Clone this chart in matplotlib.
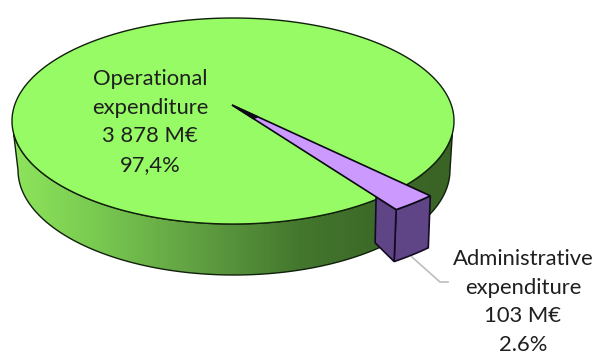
import numpy as np
import matplotlib.pyplot as plt
from matplotlib.colors import LinearSegmentedColormap
from matplotlib.patches import Polygon

categories = ['Operational\nexpenditure', 'Administrative\nexpenditure']
amounts = [3878, 103]
amount_labels = ['3 878 M€', '103 M€']
share_labels = ['97,4%', '2.6%']


def rim(cx, cy, a, b, t0, t1, n=200):
    # points of an ellipse between two angles (degrees), y pointing down
    t = np.radians(np.linspace(t0, t1, n))
    return np.column_stack([cx + a * np.cos(t), cy + b * np.sin(t)])


def main():
    plt.rcParams['font.family'] = ['Lato', 'DejaVu Sans']
    fig = plt.figure(figsize=(5.95, 3.55), dpi=100)
    ax = fig.add_axes([0, 0, 1, 1])
    ax.set_xlim(0, 595)
    ax.set_ylim(355, 0)
    ax.axis('off')

    # top and bottom ellipses of the disc
    top = (233, 121, 221, 103)
    bottom = (234, 170, 216, 105)
    squash = top[2] / top[3]

    # side of the disc, shaded left to right
    side_pts = np.vstack([rim(*top, 173, 7), rim(*bottom, 0, 180)])
    side = Polygon(side_pts, closed=True, facecolor='none', edgecolor='#10200a', lw=1.0, zorder=3)
    ax.add_patch(side)
    cmap = LinearSegmentedColormap.from_list('side', [
        (0.0, '#8ee55c'), (0.2, '#78c850'), (0.42, '#609f42'),
        (0.65, '#44772e'), (0.82, '#3c6a28'), (1.0, '#3a6326')])
    img = ax.imshow(np.linspace(0, 1, 256).reshape(1, -1), cmap=cmap, aspect='auto',
                    extent=(12, 454, 355, 0), zorder=2)
    img.set_clip_path(side)
    ax.set_xlim(0, 595)
    ax.set_ylim(355, 0)

    # top of the disc
    ax.add_patch(Polygon(rim(*top, 0, 360, 400), closed=True, facecolor='#96fb64',
                         edgecolor='#10200a', lw=1.0, zorder=4))

    # pulled out slice, its angle comes from the amounts
    apex = np.array([232.0, 105.0])
    radius = 278
    sweep = 360 * amounts[1] / sum(amounts)
    start = 44.5
    t = np.radians(np.linspace(start, start + sweep, 12))
    arc = np.column_stack([apex[0] + radius * np.cos(t), apex[1] + radius * np.sin(t) / squash])
    drop = np.array([-2, 52])

    outer_face = np.vstack([arc, arc[::-1] + drop])
    ax.add_patch(Polygon(outer_face, closed=True, facecolor='#5f4585', edgecolor='#140a24',
                         lw=1.2, zorder=5))

    # cut face of the slice, only the part outside the disc shows
    inner_top = apex + 0.878 * (arc[-1] - apex)
    cut_face = [inner_top, arc[-1], arc[-1] + drop, inner_top + [-1, 46]]
    ax.add_patch(Polygon(cut_face, closed=True, facecolor='#5f4585', edgecolor='#140a24',
                         lw=1.2, zorder=5))

    ax.add_patch(Polygon(np.vstack([apex, arc]), closed=True, facecolor='#cc99ff',
                         edgecolor='#0c0814', lw=1.2, zorder=6))

    # the narrow tip reads as solid black
    tip = apex + 0.13 * (arc[[0, -1]] - apex)
    ax.add_patch(Polygon(np.vstack([apex, tip]), closed=True, facecolor='#0c0814',
                         edgecolor='#0c0814', lw=1.0, zorder=6))

    # leader line to the small slice label
    ax.plot([412, 440, 448], [257, 282, 282], color='#bdbdbd', lw=1.2, zorder=1)

    ax.text(150, 122, '\n'.join([categories[0], amount_labels[0], share_labels[0]]),
            ha='center', va='center', fontsize=15.8, color='#1f1f1f', linespacing=1.55, zorder=7)
    ax.text(523, 302, '\n'.join([categories[1], amount_labels[1], share_labels[1]]),
            ha='center', va='center', fontsize=15.8, color='#1f1f1f', linespacing=1.55, zorder=7)

    fig.savefig('out.png', dpi=100, facecolor='white')
    return 0


if __name__ == '__main__':
    main()
